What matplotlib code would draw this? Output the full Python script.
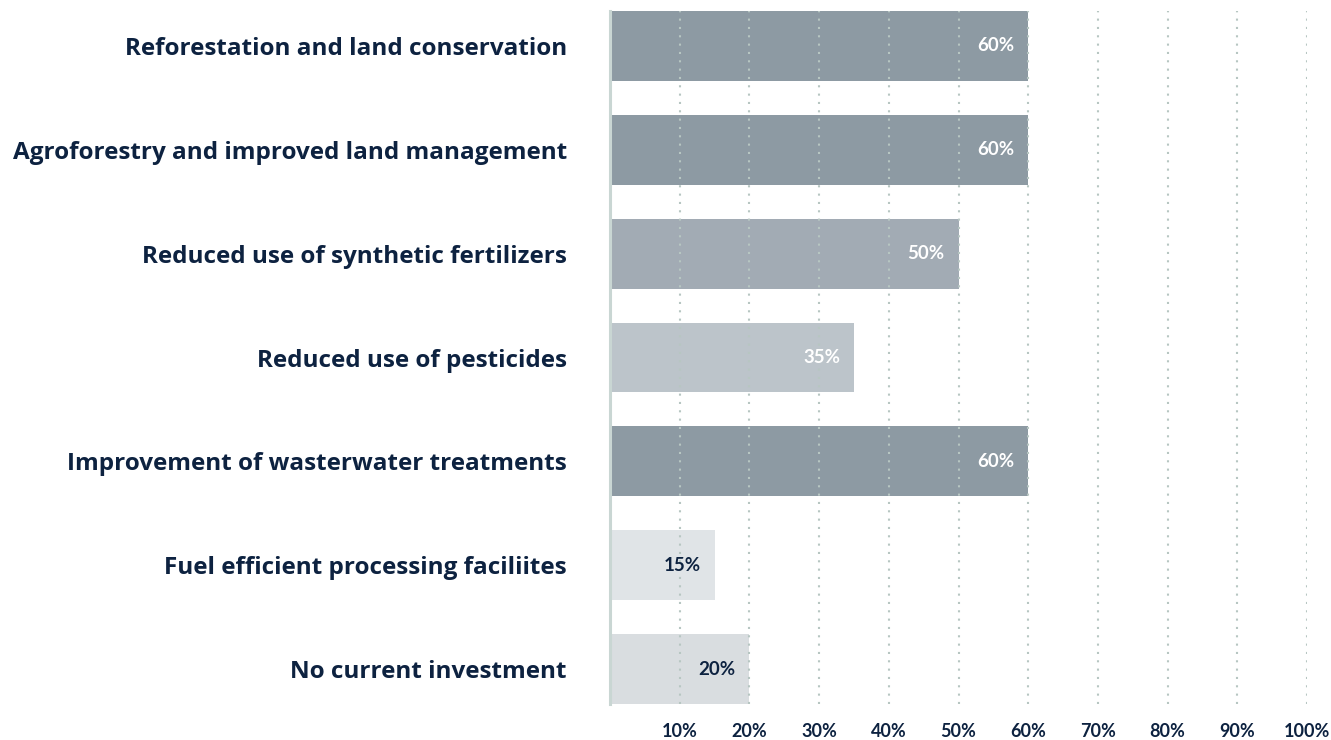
import matplotlib
matplotlib.use('Agg')
import matplotlib.pyplot as plt

# investment areas, top to bottom
categorias = ['Reforestation and land conservation',
              'Agroforestry and improved land management',
              'Reduced use of synthetic fertilizers',
              'Reduced use of pesticides',
              'Improvement of wasterwater treatments',
              'Fuel efficient processing faciliites',
              'No current investment']
valores = [60, 60, 50, 35, 60, 15, 20]
colores = ['#8d9aa3', '#8d9aa3', '#a2abb4', '#bcc4ca', '#8d9aa3', '#e0e4e7', '#d9dde0']
color_etiqueta = ['white', 'white', 'white', 'white', 'white', '#0d2240', '#0d2240']
ticks_x = [10, 20, 30, 40, 50, 60, 70, 80, 90, 100]
etiquetas_x = ['10%', '20%', '30%', '40%', '50%', '60%', '70%', '80%', '90%', '100%']

azul = '#0d2240'
plt.rcParams['font.family'] = ['Lato', 'DejaVu Sans']

fig = plt.figure(figsize=(13.31, 7.4), dpi=100)
ax = fig.add_axes([610 / 1331, 1 - 704 / 740, (1307 - 610) / 1331, (704 - 11) / 740])

alto = 0.673
pos = list(range(len(categorias)))
ax.barh(pos, valores, height=alto, color=colores, zorder=1)

# dotted vertical guides, drawn over the bars
for t in ticks_x:
    ax.axvline(t, color='#b7c6c2', linewidth=1.5, linestyle=(0, (1, 3)), zorder=2)

for i, v in enumerate(valores):
    ax.annotate(f'{v}%', xy=(v, i), xytext=(-10, 0), textcoords='offset points',
                ha='right', va='center', fontsize=13.5, fontweight='bold',
                color=color_etiqueta[i], zorder=3)

ax.set_xlim(0, 100)
ax.set_ylim(len(categorias) - 1 + alto / 2, -alto / 2)

ax.set_yticks(pos)
ax.set_yticklabels(categorias, fontsize=17.5, fontweight='bold', color=azul,
                   family=['Open Sans', 'DejaVu Sans'])
ax.set_xticks(ticks_x)
ax.set_xticklabels(etiquetas_x, fontsize=13, fontweight='bold', color=azul)
ax.tick_params(axis='y', length=0, pad=31)
ax.tick_params(axis='x', length=0, pad=14)

for lado in ['top', 'right', 'bottom']:
    ax.spines[lado].set_visible(False)
ax.spines['left'].set_color('#c9d6d3')
ax.spines['left'].set_linewidth(2.2)
ax.spines['left'].set_zorder(4)

plt.savefig('out.png', dpi=100)
